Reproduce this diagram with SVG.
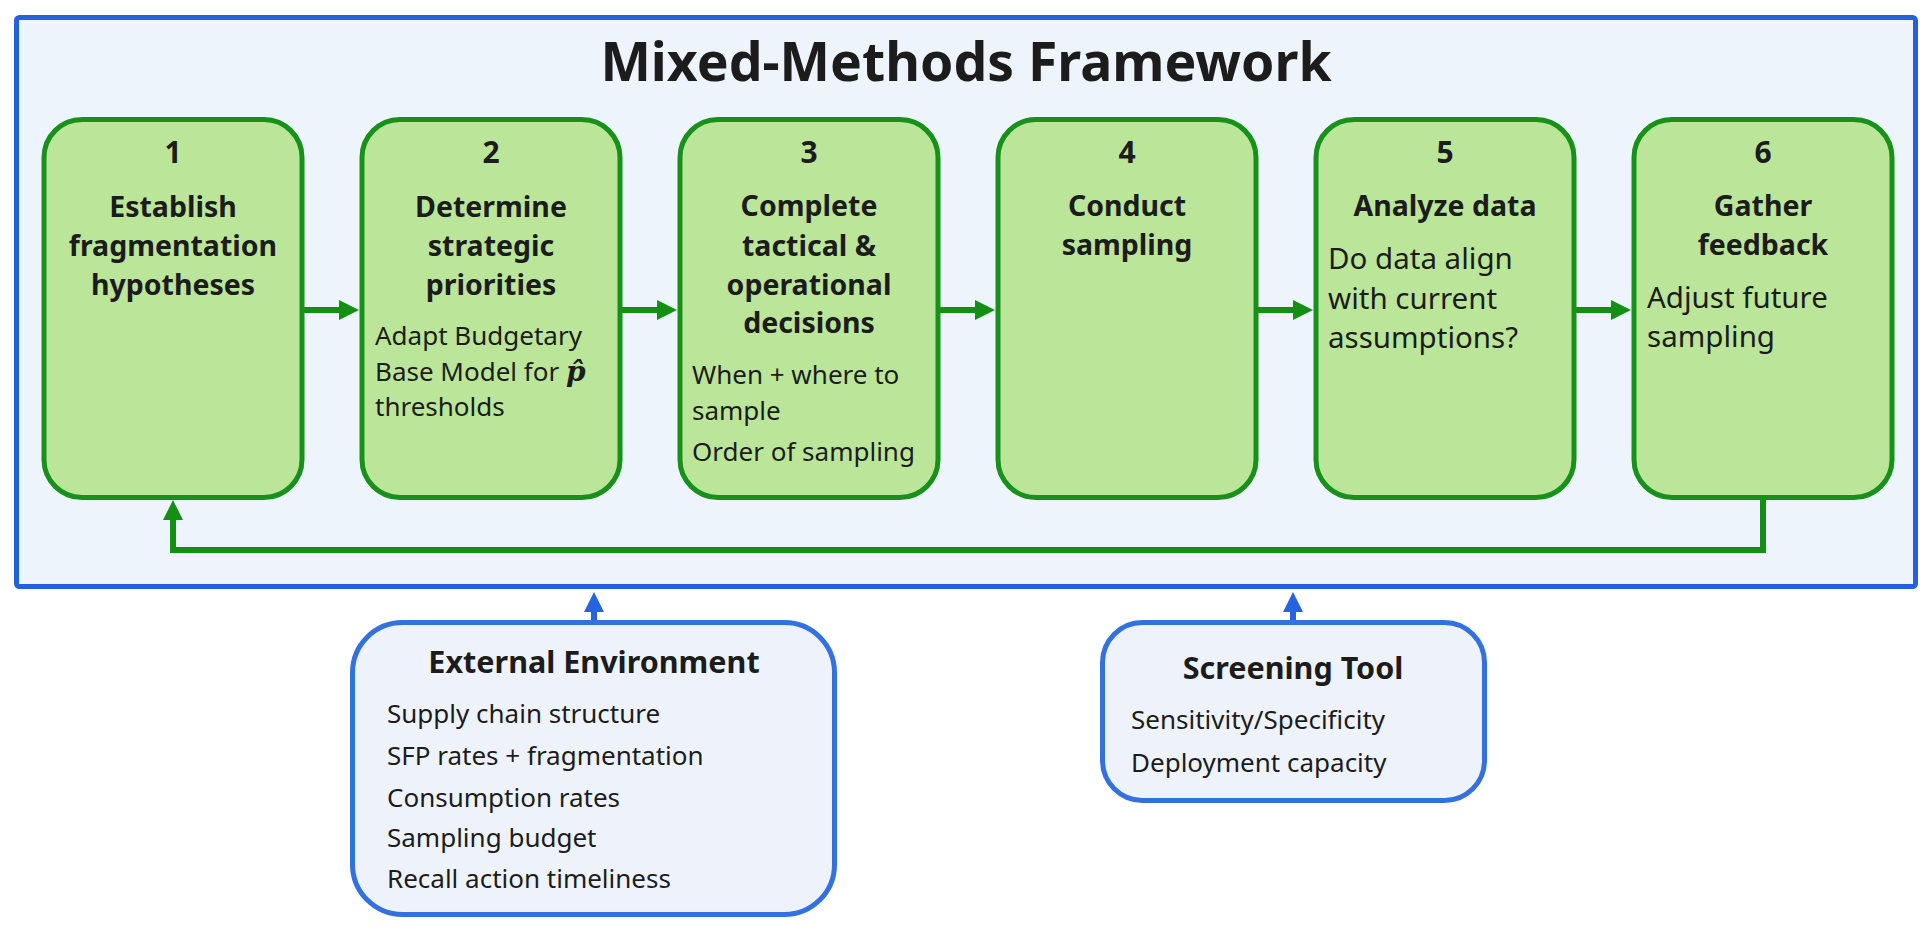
<svg xmlns="http://www.w3.org/2000/svg" width="1932" height="933" viewBox="0 0 1932 933">
<defs>
<marker id="ag" viewBox="0 0 20 20" refX="12" refY="10" markerWidth="20" markerHeight="20" markerUnits="userSpaceOnUse" orient="auto">
<path d="M0,0 L20,10 L0,20 z" fill="#138f13"/>
</marker>
<marker id="ab" viewBox="0 0 20 20" refX="12" refY="10" markerWidth="20" markerHeight="20" markerUnits="userSpaceOnUse" orient="auto">
<path d="M0,0 L20,10 L0,20 z" fill="#2563e0"/>
</marker>
</defs>
<style>
.frame{fill:#eef4fc;stroke:#2561dd;stroke-width:5}
.step{fill:#bbe69a;stroke:#17911a;stroke-width:5}
.ext{fill:#eef3fb;stroke:#3370e0;stroke-width:5}
.t{font-family:"Noto Sans","Open Sans",sans-serif;fill:#1c1c1c}
.num{font-size:30px;font-weight:bold;text-anchor:middle}
.hd{font-size:28.5px;font-weight:bold;text-anchor:middle}
.bd{font-size:26px}
.bl5{font-size:29.5px}
.eh{font-size:30.5px;font-weight:bold;text-anchor:middle}
.gl{fill:none;stroke:#138f13;stroke-width:6}
.bl{fill:none;stroke:#2563e0;stroke-width:6}
</style>
<rect class="frame" x="16.5" y="17.5" width="1899" height="569" rx="3"/>
<text class="t" x="966" y="81" font-size="53.5" font-weight="bold" text-anchor="middle">Mixed-Methods Framework</text>

<g id="connectors">
<line class="gl" x1="304" y1="310" x2="351" y2="310" marker-end="url(#ag)"/>
<line class="gl" x1="622" y1="310" x2="669" y2="310" marker-end="url(#ag)"/>
<line class="gl" x1="940" y1="310" x2="987" y2="310" marker-end="url(#ag)"/>
<line class="gl" x1="1258" y1="310" x2="1305" y2="310" marker-end="url(#ag)"/>
<line class="gl" x1="1576" y1="310" x2="1623" y2="310" marker-end="url(#ag)"/>
<path class="gl" d="M1763,497 V550 H173 V508" marker-end="url(#ag)"/>
<line class="bl" x1="594" y1="621" x2="594" y2="600" marker-end="url(#ab)"/>
<line class="bl" x1="1293" y1="621" x2="1293" y2="600" marker-end="url(#ab)"/>
</g>

<g id="step1">
<rect class="step" x="44" y="119.5" width="258" height="378" rx="38"/>
<text class="t num" x="173" y="163">1</text>
<text class="t hd" x="173" y="217">Establish</text>
<text class="t hd" x="173" y="256">fragmentation</text>
<text class="t hd" x="173" y="295">hypotheses</text>
</g>

<g id="step2">
<rect class="step" x="362" y="119.5" width="258" height="378" rx="38"/>
<text class="t num" x="491" y="163">2</text>
<text class="t hd" x="491" y="217">Determine</text>
<text class="t hd" x="491" y="256">strategic</text>
<text class="t hd" x="491" y="295">priorities</text>
<text class="t bd" x="375" y="345">Adapt Budgetary</text>
<text class="t bd" x="375" y="381">Base Model for <tspan font-family="'DejaVu Serif','Liberation Serif',serif" font-weight="bold" font-style="italic" font-size="28">p̂</tspan></text>
<text class="t bd" x="375" y="416">thresholds</text>
</g>

<g id="step3">
<rect class="step" x="680" y="119.5" width="258" height="378" rx="38"/>
<text class="t num" x="809" y="163">3</text>
<text class="t hd" x="809" y="216">Complete</text>
<text class="t hd" x="809" y="256">tactical &amp;</text>
<text class="t hd" x="809" y="295">operational</text>
<text class="t hd" x="809" y="333">decisions</text>
<text class="t bd" x="692" y="384" font-size="25.5">When + where to</text>
<text class="t bd" x="692" y="420" font-size="25.5">sample</text>
<text class="t bd" x="692" y="461" font-size="25.5">Order of sampling</text>
</g>

<g id="step4">
<rect class="step" x="998" y="119.5" width="258" height="378" rx="38"/>
<text class="t num" x="1127" y="163">4</text>
<text class="t hd" x="1127" y="216">Conduct</text>
<text class="t hd" x="1127" y="255">sampling</text>
</g>

<g id="step5">
<rect class="step" x="1316" y="119.5" width="258" height="378" rx="38"/>
<text class="t num" x="1445" y="163">5</text>
<text class="t hd" x="1445" y="216">Analyze data</text>
<text class="t bl5" x="1328" y="269">Do data align</text>
<text class="t bl5" x="1328" y="309">with current</text>
<text class="t bl5" x="1328" y="348">assumptions?</text>
</g>

<g id="step6">
<rect class="step" x="1634" y="119.5" width="258" height="378" rx="38"/>
<text class="t num" x="1763" y="163">6</text>
<text class="t hd" x="1763" y="216">Gather</text>
<text class="t hd" x="1763" y="255">feedback</text>
<text class="t bl5" x="1647" y="308">Adjust future</text>
<text class="t bl5" x="1647" y="347">sampling</text>
</g>

<g id="external">
<rect class="ext" x="352.5" y="622.5" width="482" height="292" rx="50"/>
<text class="t eh" x="594" y="673">External Environment</text>
<text class="t bd" x="387" y="723">Supply chain structure</text>
<text class="t bd" x="387" y="765">SFP rates + fragmentation</text>
<text class="t bd" x="387" y="807">Consumption rates</text>
<text class="t bd" x="387" y="847">Sampling budget</text>
<text class="t bd" x="387" y="888">Recall action timeliness</text>
</g>

<g id="screening">
<rect class="ext" x="1102.5" y="622.5" width="382" height="178" rx="40"/>
<text class="t eh" x="1293" y="679" font-size="31">Screening Tool</text>
<text class="t bd" x="1131" y="729">Sensitivity/Specificity</text>
<text class="t bd" x="1131" y="772">Deployment capacity</text>
</g>
</svg>
